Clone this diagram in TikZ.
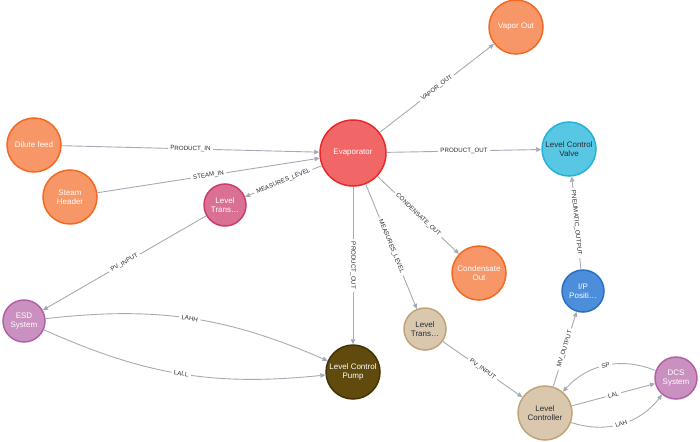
\documentclass[tikz,border=0pt]{standalone}
\usepackage{fontspec}
\setmainfont{Liberation Sans}
\usetikzlibrary{arrows.meta}
\definecolor{orfill}{HTML}{F79767}
\definecolor{ordraw}{HTML}{F36924}
\definecolor{redfill}{HTML}{F16667}
\definecolor{reddraw}{HTML}{EB2728}
\definecolor{cyfill}{HTML}{57C7E3}
\definecolor{cydraw}{HTML}{23B3D7}
\definecolor{pkfill}{HTML}{DA7194}
\definecolor{pkdraw}{HTML}{CC3C6C}
\definecolor{pufill}{HTML}{C990C0}
\definecolor{pudraw}{HTML}{B261A5}
\definecolor{brfill}{HTML}{604A0E}
\definecolor{brdraw}{HTML}{423204}
\definecolor{tnfill}{HTML}{D9C8AE}
\definecolor{tndraw}{HTML}{C0A378}
\definecolor{blfill}{HTML}{4C8EDA}
\definecolor{bldraw}{HTML}{2870C2}
\definecolor{linegray}{HTML}{A5ABB6}
\definecolor{darktext}{HTML}{2A2C34}
\begin{document}
\begin{tikzpicture}[x=1pt, y=-1pt,
		main/.style = {draw, circle, line width=1.5pt, inner sep=0pt, align=center, text=white, font=\fontsize{8}{9}\selectfont},
		big/.style = {main, minimum size=54pt},
		small/.style = {main, minimum size=42pt},
		ornode/.style = {fill=orfill, draw=ordraw},
		rdnode/.style = {fill=redfill, draw=reddraw},
		cynode/.style = {fill=cyfill, draw=cydraw, text=darktext},
		pknode/.style = {fill=pkfill, draw=pkdraw},
		punode/.style = {fill=pufill, draw=pudraw},
		brnode/.style = {fill=brfill, draw=brdraw},
		tnnode/.style = {fill=tnfill, draw=tndraw, text=darktext},
		blnode/.style = {fill=blfill, draw=bldraw},
		rel/.style = {draw=linegray, line width=0.9pt, -{Triangle[length=5pt,width=4.5pt]}},
		lbl/.style = {sloped, fill=white, inner xsep=2.5pt, inner ysep=1pt, text=darktext, font=\fontsize{6.2}{7}\selectfont}]
		\useasboundingbox (0,0) rectangle (700,441);
		\node[big, ornode] (1) at (34,145) {Dilute feed};
		\node[big, ornode] (2) at (70,197) {Steam\\Header};
		\node[main, rdnode, minimum size=66pt] (3) at (353,153) {Evaporator};
		\node[big, ornode] (4) at (516,27) {Vapor Out};
		\node[big, cynode] (5) at (569,149) {Level Control\\Valve};
		\node[small, pknode] (6) at (225,205) {Level\\Trans…};
		\node[big, ornode] (7) at (479,273) {Condensate\\Out};
		\node[small, blnode] (8) at (583,291) {I/P\\Positi…};
		\node[small, punode] (9) at (24,321) {ESD\\System};
		\node[big, brnode] (10) at (353,372) {Level Control\\Pump};
		\node[small, tnnode] (11) at (425,329) {Level\\Trans…};
		\node[big, tnnode] (12) at (545,413) {Level\\Controller};
		\node[small, punode] (13) at (676,378) {DCS\\System};
		\draw[rel] (1) -- node[lbl] {PRODUCT\_IN} (3);
		\draw[rel] (2) -- node[lbl] {STEAM\_IN} (3);
		\draw[rel] (3) -- node[lbl] {MEASURES\_LEVEL} (6);
		\draw[rel] (3) -- node[lbl] {VAPOR\_OUT} (4);
		\draw[rel] (3) -- node[lbl] {PRODUCT\_OUT} (5);
		\draw[rel] (3) -- node[lbl] {CONDENSATE\_OUT} (7);
		\draw[rel] (3) -- node[lbl] {PRODUCT\_OUT} (10);
		\draw[rel] (3) -- node[lbl] {MEASURES\_LEVEL} (11);
		\draw[rel] (6) -- node[lbl] {PV\_INPUT} (9);
		\draw[rel] (9) to[bend left=15] node[lbl] {LAHH} (10);
		\draw[rel] (9) to[bend right=15] node[lbl] {LALL} (10);
		\draw[rel] (11) -- node[lbl] {PV\_INPUT} (12);
		\draw[rel] (12) -- node[lbl] {MV\_OUTPUT} (8);
		\draw[rel] (8) -- node[lbl] {PNEUMATIC\_OUTPUT} (5);
		\draw[rel] (13) to[bend right=35] node[lbl] {SP} (12);
		\draw[rel] (12) -- node[lbl] {LAL} (13);
		\draw[rel] (12) to[bend right=35] node[lbl] {LAH} (13);
	\end{tikzpicture}
\end{document}
